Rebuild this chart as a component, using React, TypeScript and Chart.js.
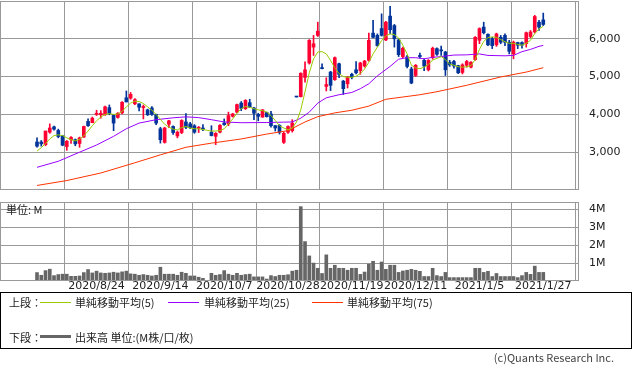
import React, { useEffect, useRef } from 'react';
import { Chart, registerables } from 'chart.js';

Chart.register(...registerables);

// ---- data ----
const tickIdx = [14, 29, 44, 59, 74, 89, 104, 119];
const tickLabels = ['2020/8/24', '2020/9/14', '2020/10/7', '2020/10/28', '2020/11/19', '2020/12/11', '2021/1/5', '2021/1/27'];
const priceTicks = [3000, 4000, 5000, 6000];
const volTicks = [1, 2, 3, 4];

const opens = [3270, 3270, 3200, 3530, 3670, 3575, 3435, 3150, 3330, 3330, 3230, 3400, 3815, 3780, 4000, 3990, 3990, 4180, 3980, 3920, 4040, 4440, 4430, 4280, 4280, 4180, 4120, 4170, 4000, 3620, 3260, 3740, 3680, 3430, 3520, 3800, 3750, 3700, 3630, 3640, null, 3530, 3420, 3530, 3770, 3750, 3950, 4060, 4300, 4150, 4310, 4170, 4000, 3930, 4050, 4010, 3700, 3710, 3260, 3530, 3570, 4470, 4470, 4980, 5360, 5780, 6090, 5220, 4740, 5120, 4920, 5340, 4880, 4810, 5060, 5180, 5160, 5280, 5430, 6150, 6090, 6270, 5970, 6600, 6350, 5970, 5530, 5520, 5200, 5030, 5560, 5430, 5180, 5500, 5740, 5700, 5650, 5380, 5400, 5290, 5110, 5300, 5250, 5450, 5960, 6310, 6120, 6000, 5840, 6040, 6090, 5910, 5600, 5900, 5900, 5870, 6060, 6180, 6440, 6500];
const highs = [3380, 3310, 3560, 3750, 3690, 3610, 3440, 3310, 3410, 3350, 3400, 3690, 3880, 3930, 4110, 4100, 4220, 4250, 3990, 4050, 4340, 4620, 4580, 4420, 4280, 4250, 4140, 4210, 4010, 3660, 3660, 3840, 3700, 3560, 3860, 4020, 3790, 3730, 3680, 3730, null, 3700, 3520, 3730, 3880, 4060, 4030, 4270, 4340, 4390, 4400, 4190, 4030, 4130, 4060, 4080, 3710, 3730, 3530, 3700, 3860, 4470, 5100, 5390, 5980, 6090, 6440, 5340, 4970, 5140, 5520, 5360, 4900, 5000, 5090, 5400, 5380, 5430, 6150, 6490, 6130, 6660, 6460, 6860, 6380, 5990, 5780, 5560, 5250, 5320, 5620, 5470, 5450, 5780, 5760, 5810, 5670, 5430, 5430, 5300, 5340, 5430, 5400, 6060, 6290, 6440, 6130, 6040, 6150, 6090, 6130, 5960, 5940, 5910, 5920, 6180, 6220, 6620, 6490, 6680];
const lows = [3130, 3160, 3170, 3500, 3580, 3380, 3170, 3050, 3230, 3170, 3130, 3390, 3680, 3780, 3970, 3900, 3970, 3990, 3570, 3900, 4010, 4330, 4400, 4260, 4090, 3880, 3970, 3970, 3730, 3240, 3240, 3650, 3470, 3380, 3490, 3620, 3620, 3500, 3520, 3570, null, 3430, 3200, 3510, 3710, 3700, 3930, 4040, 4100, 4130, 4190, 3860, 3830, 3920, 3930, 3660, 3560, 3480, 3230, 3500, 3530, 4460, 4460, 4850, 5330, 5560, 6060, 5200, 4620, 4630, 4900, 4970, 4530, 4700, 4940, 5070, 5060, 5250, 5410, 6020, 5800, 6070, 5950, 6130, 5780, 5530, 5500, 5230, 4810, 5000, 5490, 5160, 5150, 5460, 5560, 5560, 5030, 5270, 5220, 5080, 5070, 5250, 5230, 5430, 5870, 6130, 5820, 5740, 5800, 5870, 5820, 5600, 5470, 5740, 5750, 5780, 6030, 6150, 6220, 6350];
const closes = [3160, 3220, 3560, 3640, 3610, 3415, 3185, 3290, 3390, 3220, 3380, 3680, 3700, 3900, 4030, 4030, 4200, 4020, 3770, 4030, 4320, 4330, 4530, 4390, 4190, 4210, 3990, 4000, 3770, 3330, 3640, 3830, 3520, 3530, 3840, 3660, 3650, 3530, 3660, 3600, null, 3440, 3500, 3710, 3730, 3970, 4010, 4260, 4160, 4370, 4190, 4030, 3950, 4120, 3940, 3700, 3640, 3530, 3500, 3680, 3770, 4460, 5090, 5180, 5960, 5870, 6200, 5210, 4790, 4770, 5500, 5060, 4680, 4990, 4990, 5100, 5360, 5410, 5960, 6040, 5820, 6090, 6440, 6240, 6000, 5580, 5750, 5270, 4830, 5300, 5530, 5280, 5430, 5750, 5590, 5680, 5180, 5310, 5280, 5100, 5310, 5400, 5380, 6040, 6270, 6160, 5840, 5820, 6130, 5910, 5910, 5670, 5910, 5830, 5830, 6160, 6180, 6590, 6310, 6380];
const volumes = [0.47, 0.32, 0.58, 0.66, 0.30, 0.36, 0.38, 0.38, 0.26, 0.26, 0.28, 0.47, 0.64, 0.45, 0.55, 0.45, 0.43, 0.45, 0.49, 0.45, 0.51, 0.55, 0.40, 0.38, 0.32, 0.36, 0.32, 0.28, 0.32, 0.77, 0.38, 0.38, 0.38, 0.32, 0.49, 0.43, 0.28, 0.28, 0.21, 0.15, null, 0.43, 0.32, 0.36, 0.58, 0.38, 0.32, 0.43, 0.32, 0.36, 0.38, 0.23, 0.23, 0.23, 0.11, 0.30, 0.25, 0.32, 0.32, 0.35, 0.55, 0.60, 4.15, 2.2, 1.4, 1.0, 0.71, 0.42, 1.46, 0.71, 0.88, 0.71, 0.71, 0.6, 0.71, 0.71, 0.37, 0.5, 0.94, 1.1, 0.6, 1.06, 0.65, 0.88, 0.88, 0.48, 0.56, 0.6, 0.65, 0.6, 0.54, 0.25, 0.25, 0.71, 0.3, 0.25, 0.48, 0.19, 0.19, 0.19, 0.19, 0.19, 0.19, 0.71, 0.71, 0.48, 0.54, 0.25, 0.42, 0.25, 0.25, 0.25, 0.25, 0.19, 0.3, 0.48, 0.37, 0.83, 0.48, 0.48];

const ma5 = [3030, 3120, 3230, 3350, 3440, 3460, 3440, 3380, 3330, 3300, 3340, 3430, 3560, 3700, 3830, 3930, 4000, 4020, 4000, 4010, 4080, 4200, 4300, 4350, 4340, 4290, 4200, 4110, 4000, 3870, 3740, 3660, 3610, 3590, 3650, 3680, 3640, 3620, 3620, 3600, null, 3560, 3560, 3570, 3620, 3750, 3880, 4030, 4150, 4210, 4190, 4150, 4120, 4100, 4060, 3970, 3840, 3700, 3640, 3590, 3640, 3800, 4120, 4600, 5100, 5470, 5650, 5660, 5600, 5430, 5230, 5080, 5000, 4980, 4980, 5010, 5080, 5200, 5380, 5600, 5780, 5950, 6080, 6130, 6110, 6020, 5830, 5600, 5300, 5230, 5210, 5250, 5320, 5440, 5480, 5530, 5450, 5330, 5300, 5260, 5250, 5260, 5290, 5450, 5720, 5930, 6030, 6050, 6040, 5980, 5920, 5880, 5880, 5850, 5830, 5880, 5960, 6140, 6260, 6330];
const ma25Idx = [0, 5, 10, 14, 18, 21, 24, 28, 32, 35, 38, 41, 44, 48, 54, 58, 60, 62, 64, 66, 68, 71, 74, 76, 78, 80, 83, 85, 87, 89, 91, 93, 95, 98, 101, 104, 106, 110, 112, 114, 116, 118, 119];
const ma25 = [2600, 2760, 3000, 3190, 3420, 3620, 3770, 3860, 3910, 3935, 3915, 3860, 3800, 3780, 3785, 3795, 3800, 3900, 4060, 4300, 4440, 4520, 4580, 4680, 4810, 5020, 5270, 5460, 5500, 5500, 5470, 5510, 5530, 5570, 5575, 5600, 5560, 5550, 5560, 5660, 5720, 5800, 5825];
const ma75Idx = [0, 7, 15, 23, 29, 35, 41, 48, 54, 59, 63, 66, 70, 74, 78, 82, 86, 90, 94, 101, 109, 115, 119];
const ma75 = [2120, 2250, 2450, 2720, 2930, 3130, 3240, 3350, 3480, 3570, 3800, 3940, 4040, 4110, 4220, 4400, 4460, 4520, 4600, 4770, 4990, 5120, 5235];

// ---- styles ----
const UP = '#ff0033';
const DOWN = '#003399';
const GRID = '#999999';
const X_MIN = -8.7;
const X_MAX = 127.4;
const AXIS_FONT = { family: 'DejaVu Sans', size: 11 };
const CJK = '"Noto Sans CJK JP", "DejaVu Sans", sans-serif';

const framePlugin = {
  id: 'frame',
  afterDraw(chart: any) {
    const { ctx, chartArea: a } = chart;
    ctx.save();
    ctx.strokeStyle = GRID;
    ctx.lineWidth = 1;
    ctx.strokeRect(a.left + 0.5, a.top + 0.5, a.right - a.left - 1, a.bottom - a.top - 1);
    ctx.restore();
  },
};

function xAxis(showLabels: boolean) {
  return {
    type: 'linear',
    min: X_MIN,
    max: X_MAX,
    offset: false,
    grid: { color: GRID, lineWidth: 1, drawTicks: false },
    border: { display: false },
    afterBuildTicks: (axis: any) => {
      axis.ticks = tickIdx.map((v) => ({ value: v }));
    },
    ticks: showLabels
      ? {
          display: true,
          autoSkip: false,
          maxRotation: 0,
          minRotation: 0,
          padding: -1,
          color: '#222',
          font: AXIS_FONT,
          callback: (_v: any, i: number) => tickLabels[i],
        }
      : { display: false },
    afterFit: (axis: any) => {
      axis.height = showLabels ? 14 : 0;
      axis.paddingLeft = 0;
      axis.paddingRight = 0;
    },
  };
}

function yAxis(min: number, max: number, ticks: number[], fmt: (v: number) => string) {
  return {
    type: 'linear',
    position: 'right',
    min,
    max,
    grid: { color: GRID, lineWidth: 1, drawTicks: false },
    border: { display: false },
    afterBuildTicks: (axis: any) => {
      axis.ticks = ticks.map((v) => ({ value: v }));
    },
    ticks: { padding: 10, color: '#222', font: AXIS_FONT, callback: (v: any) => fmt(Number(v)) },
    afterFit: (axis: any) => {
      axis.width = 54;
      axis.paddingTop = 0;
      axis.paddingBottom = 0;
    },
  };
}

export default function App() {
  const priceRef = useRef<HTMLCanvasElement>(null);
  const volRef = useRef<HTMLCanvasElement>(null);

  useEffect(() => {
    const idx: number[] = [];
    opens.forEach((o, i) => {
      if (o !== null) idx.push(i);
    });
    const colors = idx.map((i) => ((closes[i] as number) >= (opens[i] as number) ? UP : DOWN));
    const wickData = idx.map((i) => ({ x: i, y: [lows[i], highs[i]] }));
    const bodyData = idx.map((i) => ({
      x: i,
      y: [Math.min(opens[i] as number, closes[i] as number), Math.max(opens[i] as number, closes[i] as number)],
    }));
    const ma5Data = ma5.map((v, i) => (v === null ? null : { x: i, y: v })).filter((p) => p !== null);
    const ma25Data = ma25Idx.map((x, k) => ({ x, y: ma25[k] }));
    const ma75Data = ma75Idx.map((x, k) => ({ x, y: ma75[k] }));

    const lineDs = (label: string, data: any[], color: string) => ({
      type: 'line',
      label,
      data,
      borderColor: color,
      borderWidth: 1,
      pointRadius: 0,
      tension: 0,
      spanGaps: true,
      order: 1,
    });

    const c1 = new Chart(priceRef.current as HTMLCanvasElement, {
      type: 'bar',
      data: {
        datasets: [
          lineDs('MA5', ma5Data, '#99cc00'),
          lineDs('MA25', ma25Data, '#9900ff'),
          lineDs('MA75', ma75Data, '#ff3300'),
          {
            type: 'bar',
            label: 'wick',
            data: wickData,
            backgroundColor: colors,
            barThickness: 1,
            grouped: false,
            order: 3,
          },
          {
            type: 'bar',
            label: 'body',
            data: bodyData,
            backgroundColor: colors,
            barThickness: 3,
            minBarLength: 1,
            grouped: false,
            order: 2,
          },
        ] as any,
      },
      options: {
        animation: false,
        responsive: false,
        devicePixelRatio: 1,
        events: [],
        layout: { padding: { left: 0, top: 1, right: 0, bottom: 10 } },
        plugins: { legend: { display: false }, tooltip: { enabled: false } },
        scales: {
          x: xAxis(false),
          y: yAxis(2000, 7000, priceTicks, (v) => v.toLocaleString('en-US')),
        } as any,
      },
      plugins: [framePlugin],
    });

    const volIdx: number[] = [];
    volumes.forEach((v, i) => {
      if (v !== null) volIdx.push(i);
    });
    const c2 = new Chart(volRef.current as HTMLCanvasElement, {
      type: 'bar',
      data: {
        datasets: [
          {
            label: 'volume',
            data: volIdx.map((i) => ({ x: i, y: volumes[i] })),
            backgroundColor: '#666666',
            barThickness: 3,
            grouped: false,
          },
        ] as any,
      },
      options: {
        animation: false,
        responsive: false,
        devicePixelRatio: 1,
        events: [],
        layout: { padding: { left: 0, top: 7, right: 0, bottom: 0 } },
        plugins: { legend: { display: false }, tooltip: { enabled: false } },
        scales: {
          x: xAxis(true),
          y: yAxis(0, 4.41, volTicks, (v) => v + 'M'),
        } as any,
      },
      plugins: [framePlugin],
    });

    return () => {
      c1.destroy();
      c2.destroy();
    };
  }, []);

  const txt: React.CSSProperties = {
    position: 'absolute',
    fontFamily: CJK,
    fontSize: 11,
    lineHeight: '14px',
    color: '#222',
    whiteSpace: 'nowrap',
  };
  const sample = (left: number, top: number, color: string, h: number): React.CSSProperties => ({
    position: 'absolute',
    left,
    top,
    width: 31,
    height: h,
    background: color,
  });

  return (
    <div style={{ position: 'absolute', left: 0, top: 0, width: 633, height: 371, background: '#fff', overflow: 'hidden' }}>
      <canvas ref={priceRef} width={633} height={200} style={{ position: 'absolute', left: 0, top: 0, width: 633, height: 200 }} />
      <canvas ref={volRef} width={633} height={100} style={{ position: 'absolute', left: 0, top: 195, width: 633, height: 100 }} />
      <div style={{ ...txt, left: 6, top: 202 }}>単位: M</div>
      <div
        style={{
          position: 'absolute',
          left: 0,
          top: 292,
          width: 632,
          height: 57,
          boxSizing: 'border-box',
          border: '1px solid #000',
        }}
      >
        <div style={{ ...txt, left: 8, top: 2 }}>上段：</div>
        <div style={sample(39, 9, '#99cc00', 1)} />
        <div style={{ ...txt, left: 74, top: 2 }}>単純移動平均(5)</div>
        <div style={sample(167, 9, '#9900ff', 1)} />
        <div style={{ ...txt, left: 203, top: 2 }}>単純移動平均(25)</div>
        <div style={sample(311, 9, '#ff3300', 1)} />
        <div style={{ ...txt, left: 346, top: 2 }}>単純移動平均(75)</div>
        <div style={{ ...txt, left: 8, top: 37 }}>下段：</div>
        <div style={sample(39, 42, '#666666', 3)} />
        <div style={{ ...txt, left: 74, top: 37 }}>出来高 単位:(M株/口/枚)</div>
      </div>
      <div style={{ ...txt, right: 19, top: 350, color: '#444' }}>(c)Quants Research Inc.</div>
    </div>
  );
}
